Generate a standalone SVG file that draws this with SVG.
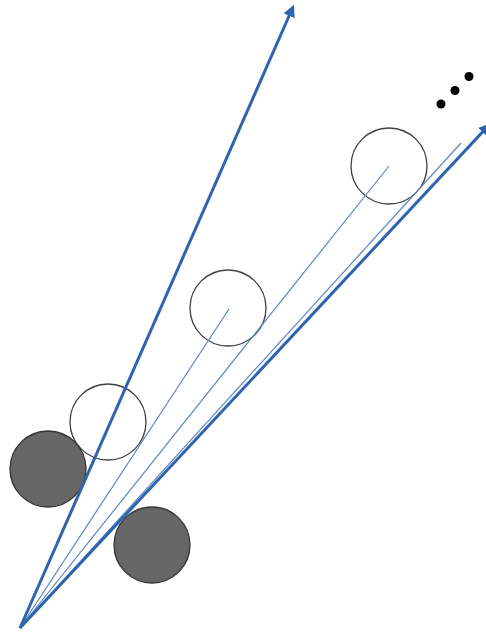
<svg xmlns="http://www.w3.org/2000/svg" width="486" height="635" viewBox="0 0 486 635">
<defs>
<style>
.thick{stroke:#2e64ae;stroke-width:3;fill:none}
.thin{stroke:#5b86c5;stroke-width:1.2;fill:none}
.open{fill:none;stroke:#404040;stroke-width:1.3}
.dark{fill:#666666;stroke:#333333;stroke-width:1.3}
.dot{fill:#000}
</style>
<marker id="ah" viewBox="0 0 10 10" refX="8" refY="5" markerWidth="4" markerHeight="4" orient="auto" markerUnits="strokeWidth">
<path d="M0,0 L10,5 L0,10 Z" fill="#2e64ae"/>
</marker>
</defs>
<g id="n-open1"><circle class="open" cx="108" cy="422" r="38"/></g>
<g id="n-open2"><circle class="open" cx="228" cy="308" r="38"/></g>
<g id="n-open3"><circle class="open" cx="389" cy="166" r="38"/></g>
<g id="n-dark1"><circle class="dark" cx="48" cy="469" r="38"/></g>
<g id="n-dark2"><circle class="dark" cx="152" cy="545" r="38"/></g>
<g id="n-dots">
<circle class="dot" cx="441" cy="104" r="4.5"/>
<circle class="dot" cx="455" cy="90.5" r="4.5"/>
<circle class="dot" cx="469" cy="76.5" r="4.5"/>
</g>
<g id="connectors">
<line class="thin" x1="20" y1="628" x2="229" y2="309"/>
<line class="thin" x1="20" y1="628" x2="389" y2="166"/>
<line class="thin" x1="20" y1="628" x2="461" y2="143"/>
<line class="thick" x1="20" y1="628" x2="293" y2="7" marker-end="url(#ah)"/>
<line class="thick" x1="20" y1="628" x2="489" y2="125" marker-end="url(#ah)"/>
</g>
</svg>
